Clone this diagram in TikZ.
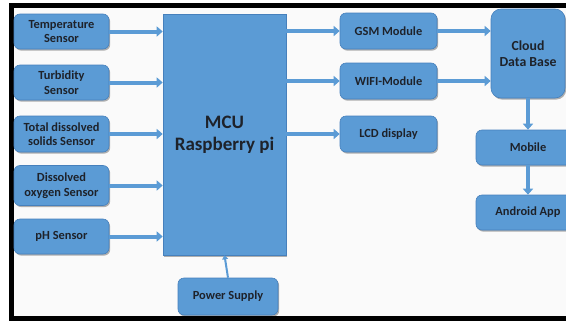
\documentclass[tikz,border=0pt]{standalone}
\usepackage{fontspec}
\setmainfont{Carlito}
\usetikzlibrary{arrows.meta,shadows}
\definecolor{boxblue}{RGB}{91,155,213}
\definecolor{boxedge}{RGB}{70,128,188}
\definecolor{txt}{RGB}{30,34,42}
\definecolor{bg}{RGB}{250,250,250}
\begin{document}
\begin{tikzpicture}[x=1pt,y=-1pt,
  blk/.style={draw=boxedge, line width=0.6pt, fill=boxblue, rounded corners=6pt,
    text=txt, font=\fontsize{12.4}{14.5}\selectfont\bfseries, align=center, inner sep=0pt,
    drop shadow={shadow xshift=1.2pt, shadow yshift=-1.6pt, opacity=0.3, fill=black}},
  arr/.style={draw=boxblue, line width=4pt, -{Triangle[width=10pt,length=6pt]}},
  thinarr/.style={draw=boxblue, line width=2pt, -{Triangle[width=6pt,length=4pt]}}]
\useasboundingbox (0,0) rectangle (566,322);
\fill[white] (0,0) rectangle (566,322);
\fill[bg] (12,6) rectangle (566,318);
\draw[black, line width=4.5pt] (566,5.5) -- (11.5,5.5) -- (11.5,318.5) -- (566,318.5);
% left sensors
\node[blk, minimum width=95pt, minimum height=35pt] (temp) at (61.5,31.5) {Temperature\\Sensor};
\node[blk, minimum width=95pt, minimum height=35pt] (turb) at (61.5,82.5) {Turbidity\\Sensor};
\node[blk, minimum width=95pt, minimum height=36pt] (tds) at (61.5,134) {Total dissolved\\solids Sensor};
\node[blk, minimum width=95pt, minimum height=40pt] (dox) at (61.5,185.5) {Dissolved\\oxygen Sensor};
\node[blk, minimum width=95pt, minimum height=35pt] (ph) at (61.5,236.5) {pH Sensor};
% MCU
\node[blk, rounded corners=0pt, minimum width=123pt, minimum height=241pt,
  font=\fontsize{19}{22}\selectfont\bfseries] (mcu) at (224.5,134.5) {MCU\\Raspberry pi};
\node[blk, minimum width=100pt, minimum height=37pt] (pwr) at (228,296.5) {Power Supply};
% right side
\node[blk, minimum width=97pt, minimum height=36pt] (gsm) at (388.5,31) {GSM Module};
\node[blk, minimum width=97pt, minimum height=36pt] (wifi) at (388.5,81) {WIFI-Module};
\node[blk, minimum width=97pt, minimum height=36pt] (lcd) at (388.5,134) {LCD display};
\node[blk, rounded corners=10pt, minimum width=74pt, minimum height=89pt,
  font=\fontsize{13.8}{16.5}\selectfont\bfseries] (cloud) at (528,53.5) {Cloud\\Data Base};
\node[blk, minimum width=104pt, minimum height=35pt] (mob) at (528,147.5) {Mobile};
\node[blk, minimum width=104pt, minimum height=35pt] (app) at (528,212.5) {Android App};
% arrows
\foreach \s in {temp,turb,tds,dox,ph}
  \draw[arr] (\s.east) -- (\s.east -| mcu.west);
\draw[arr] (gsm.west -| mcu.east) -- (gsm.west);
\draw[arr] (wifi.west -| mcu.east) -- (wifi.west);
\draw[arr] (lcd.west -| mcu.east) -- (lcd.west);
\draw[arr] (gsm.east) -- (gsm.east -| cloud.west);
\draw[arr] (wifi.east) -- (wifi.east -| cloud.west);
\draw[arr] (cloud.south) -- (mob.north);
\draw[arr] (mob.south) -- (app.north);
\draw[thinarr] (pwr.north) -- (mcu.south);
\end{tikzpicture}
\end{document}
